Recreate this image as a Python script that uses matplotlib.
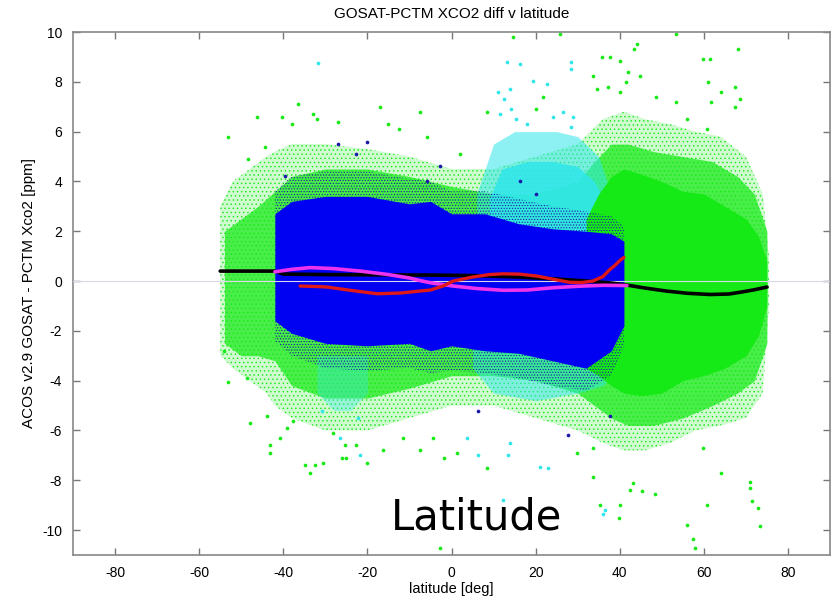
import matplotlib
matplotlib.use("Agg")
import matplotlib.pyplot as plt
import numpy as np

plt.rcParams["axes.unicode_minus"] = False
plt.rcParams["hatch.linewidth"] = 0.5

# ---------------- data ----------------
title = "GOSAT-PCTM XCO2 diff v latitude"
xlabel = "latitude [deg]"
ylabel = "ACOS v2.9 GOSAT - PCTM Xco2 [ppm]"
note = "Latitude"
xticks = [-80, -60, -40, -20, 0, 20, 40, 60, 80]
yticks = [-10, -8, -6, -4, -2, 0, 2, 4, 6, 8, 10]

# green cloud: sparse outer envelope
g_out_lat = [-55, -52, -48, -44, -42, -38, -30, -20, -10, 0, 10, 20, 30, 36, 41, 46, 52, 58, 64, 70, 74, 75.5]
g_out_hi = [3.0, 4.0, 4.5, 5.0, 5.2, 5.5, 5.5, 5.3, 5.0, 4.5, 4.5, 5.0, 5.5, 6.5, 6.8, 6.5, 6.3, 6.0, 5.8, 5.0, 3.5, 1.0]
g_out_lo = [-3.0, -3.5, -4.0, -4.5, -5.0, -5.5, -6.0, -6.0, -5.5, -5.0, -5.0, -5.5, -6.0, -6.5, -6.8, -6.8, -6.5, -6.0, -5.8, -5.5, -4.5, -1.0]
# green cloud: denser middle envelope
g_mid_lat = [-54, -50, -46, -42, -38, -30, -20, -10, 0, 10, 20, 30, 34, 38, 42, 48, 55, 62, 68, 72, 75]
g_mid_hi = [2.0, 2.5, 3.0, 3.6, 4.2, 4.5, 4.5, 4.2, 3.8, 3.5, 3.5, 4.0, 4.8, 5.5, 5.5, 5.2, 5.0, 4.8, 4.2, 3.5, 2.0]
g_mid_lo = [-2.5, -3.0, -3.0, -3.2, -4.2, -4.7, -4.7, -4.3, -3.8, -3.8, -4.0, -4.5, -5.0, -5.5, -5.8, -5.8, -5.5, -5.0, -4.5, -4.0, -2.5]
# green cloud: solid core (northern block)
g_core_lat = [32, 35, 38, 41, 45, 50, 55, 60, 65, 70, 73, 75]
g_core_hi = [2.5, 3.5, 4.2, 4.5, 4.3, 4.0, 3.6, 3.5, 3.0, 2.5, 1.8, 0.8]
g_core_lo = [-3.5, -3.8, -4.2, -4.5, -4.6, -4.5, -4.0, -3.8, -3.5, -3.0, -2.2, -1.0]

# cyan cloud
c_top_lat = [6, 10, 15, 20, 25, 30, 35, 38]
c_top_hi = [3.5, 5.5, 6.0, 6.0, 6.0, 5.8, 5.0, 3.5]
c_top_lo = [1.8, 1.8, 1.8, 1.8, 1.8, 1.8, 1.8, 1.8]
c_core_lat = [9, 12, 18, 24, 30, 34, 37]
c_core_hi = [3.3, 4.5, 4.8, 4.8, 4.6, 4.0, 3.0]
c_core_lo = [2.0, 2.0, 2.0, 2.0, 2.0, 2.0, 2.0]
c_bot_lat = [5, 10, 20, 30, 36, 40]
c_bot_hi = [-2.6, -2.7, -2.8, -3.0, -2.8, -2.5]
c_bot_lo = [-3.5, -4.5, -4.8, -4.5, -4.2, -3.5]
c_bl_lat = [-32, -28, -24, -20]
c_bl_hi = [-3.0, -3.0, -3.0, -3.0]
c_bl_lo = [-4.5, -5.2, -5.2, -4.5]

# blue cloud
b_lat = [-42, -38, -30, -20, -10, -5, 0, 8, 16, 24, 32, 38, 41]
b_hi = [2.7, 3.2, 3.4, 3.4, 3.1, 3.2, 2.7, 2.7, 2.3, 2.1, 2.0, 1.9, 1.6]
b_lo = [-1.6, -2.1, -2.5, -2.6, -2.5, -2.8, -2.6, -2.8, -2.9, -3.2, -3.5, -2.8, -1.8]
b_halo_hi = [3.6, 4.2, 4.4, 4.4, 4.1, 4.0, 3.6, 3.6, 3.3, 3.0, 2.8, 2.6, 2.2]
b_halo_lo = [-2.4, -3.0, -3.5, -3.6, -3.5, -3.7, -3.6, -3.7, -3.9, -4.2, -4.4, -3.8, -2.6]

# sparse outlying points
green_pts_lat = [-53.1, -46.3, -44.3, -48.3, -40.4, -36.4, -38.0, -32.9, -32.0, -26.9, -17.0, -15.0, -12.6,
                 14.7, 25.8, 44.0, 43.3, 35.7, 37.7, 40.1, 68.2, 59.9, 61.5, 53.5, 33.7, 42.0, 44.8, 34.5,
                 37.3, 41.6, 40.1, 48.7, 53.5, 55.9, 61.1, 64.2, 67.4, 68.6, 67.4, 61.8, 60.7, 21.8, 20.2,
                 8.4, 2.0, -5.9, -7.5,
                 -53.1, -48.7, -54.2, -43.2, -43.2, -40.8, -47.9, -43.9, -34.8, -33.6, -32.4, -30.5, -26.1,
                 -25.2, -20.2, -25.3, -22.7, -16.2, -11.5, -37.6, -39.2, -28.1,
                 -2.7, 33.7, 35.3, 40.1, 39.8, 42.4, 45.2, 48.4, 60.7, 55.9, 57.5, 57.9, 71.0, 71.0, 71.4,
                 72.9, 73.4, 64.2, 59.9, 43.2, 29.8, 33.7, -1.9, 1.2, 8.4, -7.5, -4.3]
green_pts_val = [5.8, 6.6, 5.4, 4.9, 6.6, 7.1, 6.3, 6.7, 6.5, 6.4, 7.0, 6.3, 6.1,
                 9.8, 9.9, 9.5, 9.3, 9.0, 9.0, 8.85, 9.3, 8.9, 8.9, 9.9, 8.25, 8.4, 8.25, 7.7,
                 7.8, 8.0, 7.6, 7.4, 7.2, 6.5, 8.0, 7.6, 7.8, 7.3, 7.0, 7.2, 6.1, 7.4, 6.9,
                 6.8, 5.1, 5.8, 6.8,
                 -4.05, -3.9, -2.8, -6.6, -6.9, -6.3, -5.7, -5.4, -7.4, -7.7, -7.4, -7.3, -7.1,
                 -7.1, -7.3, -6.6, -6.6, -6.8, -6.3, -5.6, -5.9, -6.1,
                 -10.7, -7.85, -9.0, -9.0, -9.5, -8.4, -8.45, -8.55, -9.0, -9.8, -10.35, -10.7, -8.05, -8.3, -8.85,
                 -9.1, -9.85, -7.7, -6.7, -8.1, -6.9, -6.7, -7.1, -6.9, -7.5, -6.8, -6.3]
cyan_pts_lat = [-31.7, 13.1, 16.3, 28.5, 28.4, 11.1, 13.9, 12.5, 19.4, 22.6, 11.5, 14.1, 15.3, 17.9, 24.2,
                26.6, 29.0, 28.5, -21.7, -26.5, -30.9, -22.2, 36.5, 36.1, 21.0, 23.0, 13.5, 13.9, 6.4, 3.6, 12.3]
cyan_pts_val = [8.75, 8.8, 8.7, 8.8, 8.5, 7.6, 7.7, 7.3, 8.05, 7.9, 6.7, 6.9, 6.5, 6.3, 6.6,
                6.8, 6.6, 6.2, -7.0, -6.3, -5.2, -5.5, -9.2, -9.35, -7.45, -7.5, -7.0, -6.5, -7.0, -6.3, -8.8]
blue_pts_lat = [-20.2, -22.6, -26.9, -39.7, -2.7, -5.9, 16.3, 20.2, 27.7, 6.4, 37.7]
blue_pts_val = [5.6, 5.1, 5.5, 4.2, 4.6, 4.0, 4.0, 3.5, -6.2, -5.2, -5.4]

# fitted curves
black_lat = [-55, -48, -42, -40, -30, -20, -5, 5, 16, 25, 32, 38, 42, 46, 51, 56, 61.5, 66, 69, 72, 75]
black_val = [0.40, 0.40, 0.40, 0.28, 0.26, 0.25, 0.24, 0.22, 0.16, 0.08, 0.0, -0.08, -0.17, -0.28, -0.40, -0.49, -0.54, -0.52, -0.44, -0.35, -0.24]
magenta_lat = [-42, -38, -33.6, -28, -21.7, -15, -9.9, -7.5, -5, 0.4, 6, 12.2, 18, 24, 30, 36, 41.7]
magenta_val = [0.37, 0.47, 0.54, 0.50, 0.40, 0.26, 0.12, 0.02, -0.07, -0.20, -0.30, -0.37, -0.36, -0.27, -0.21, -0.17, -0.18]
red_lat = [-36, -32, -29.6, -25, -20, -17.7, -12, -7.5, -5, -2, 0.4, 5, 9, 12.2, 16, 20.3, 24, 28, 31, 33.6, 36, 37.7, 39, 40, 41]
red_val = [-0.20, -0.22, -0.24, -0.35, -0.46, -0.51, -0.48, -0.40, -0.36, -0.20, 0.0, 0.16, 0.26, 0.29, 0.28, 0.20, 0.08, -0.05, -0.06, 0.0, 0.18, 0.47, 0.65, 0.82, 0.95]

# ---------------- drawing ----------------
GREEN = "#16ea16"
CYAN = "#30e6ea"
BLUE = "#0000f2"
NAVY = "#1a1aa8"

fig = plt.figure(figsize=(8.38, 6.05), dpi=100)
ax = fig.add_axes([73 / 838, 50 / 605, 757 / 838, 523 / 605])

# sparse speckle zones as dotted hatching, denser zones as tinted fills
ax.fill_between(g_out_lat, g_out_lo, g_out_hi, facecolor=GREEN, alpha=0.2, lw=0, zorder=1)
ax.fill_between(g_out_lat, g_out_lo, g_out_hi, facecolor="none", edgecolor=GREEN, hatch="....",
                lw=0, zorder=1.05)
ax.fill_between(g_mid_lat, g_mid_lo, g_mid_hi, color=GREEN, alpha=0.72, lw=0, zorder=1.1)
ax.fill_between(c_top_lat, c_top_lo, c_top_hi, color=CYAN, alpha=0.55, lw=0, zorder=1.2)
ax.fill_between(c_bot_lat, c_bot_lo, c_bot_hi, color=CYAN, alpha=0.5, lw=0, zorder=1.2)
ax.fill_between(c_bl_lat, c_bl_lo, c_bl_hi, color=CYAN, alpha=0.35, lw=0, zorder=1.2)
ax.fill_between(c_core_lat, c_core_lo, c_core_hi, color=CYAN, alpha=0.85, lw=0, zorder=1.3)
ax.fill_between(g_core_lat, g_core_lo, g_core_hi, color=GREEN, lw=0, zorder=1.35)
ax.fill_between(b_lat, b_halo_lo, b_halo_hi, facecolor="none", edgecolor=NAVY, hatch="......",
                lw=0, zorder=1.4)
ax.fill_between(b_lat, b_lo, b_hi, color=BLUE, lw=0, zorder=1.5)

ax.scatter(green_pts_lat, green_pts_val, s=7, color=GREEN, lw=0, zorder=2)
ax.scatter(cyan_pts_lat, cyan_pts_val, s=7, color=CYAN, lw=0, zorder=2)
ax.scatter(blue_pts_lat, blue_pts_val, s=7, color=NAVY, lw=0, zorder=2)

ax.axhline(0, color="#d8d8e8", lw=0.8, zorder=3)

ax.plot(black_lat, black_val, color="black", lw=2.6, zorder=4, solid_capstyle="round")
ax.plot(magenta_lat, magenta_val, color="#ee33ee", lw=2.6, zorder=5, solid_capstyle="round")
ax.plot(red_lat, red_val, color="#e01818", lw=2.4, zorder=6, solid_capstyle="round")

ax.set_xlim(-90, 90)
ax.set_ylim(-11, 10)
ax.set_xticks(xticks)
ax.set_yticks(yticks)
ax.tick_params(direction="in", length=5, width=1, color="#777777", top=True, right=True,
               labelsize=10, pad=8)
for sp in ax.spines.values():
    sp.set_color("#888888")
    sp.set_linewidth(1.2)

font = "Liberation Sans"
for lab in ax.get_xticklabels() + ax.get_yticklabels():
    lab.set_family(font)
ax.set_title(title, fontsize=11, family=font, pad=10)
ax.set_xlabel(xlabel, fontsize=10.5, family=font, labelpad=1)
ax.set_ylabel(ylabel, fontsize=11, family=font, labelpad=4)

fig.text(477 / 838, 75 / 605, note, fontsize=30, family="DejaVu Sans", ha="center", va="baseline",
         color="black")

fig.savefig("out.png", dpi=100)
